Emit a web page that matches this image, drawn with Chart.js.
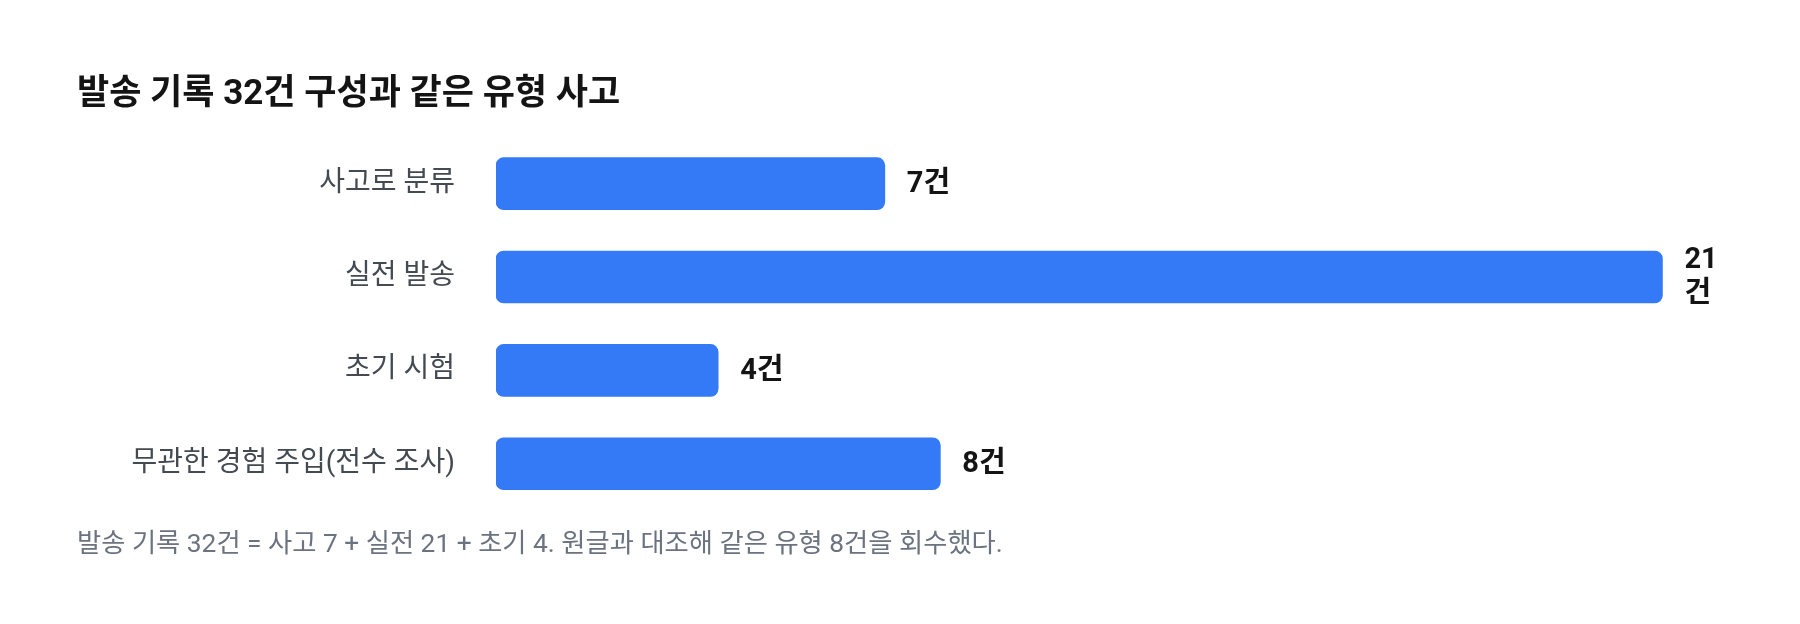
<!DOCTYPE html>
<html lang="ko">
<head>
<meta charset="utf-8">
<title>발송 기록 32건 구성과 같은 유형 사고</title>
<script src="https://cdn.jsdelivr.net/npm/chart.js@4.4.1/dist/chart.umd.min.js"></script>
<style>
  html, body { margin: 0; padding: 0; background: #ffffff; }
  canvas { display: block; }
</style>
</head>
<body>
<canvas id="chart" width="1800" height="624"></canvas>
<script>
// Data
const categories = ['사고로 분류', '실전 발송', '초기 시험', '무관한 경험 주입(전수 조사)']
const counts = [7, 21, 4, 8]
const unit = '건'
const titleText = '발송 기록 32건 구성과 같은 유형 사고'
const footnoteText = '발송 기록 32건 = 사고 7 + 실전 21 + 초기 4. 원글과 대조해 같은 유형 8건을 회수했다.'

const FONT = "Roboto, 'Noto Sans CJK KR', 'Noto Sans', sans-serif"
const BAR_COLOR = '#3479f6'

// Draws "N건" to the right of each bar, breaks the line when it would run past the plot area
const valueLabels = {
  id: 'valueLabels',
  afterDatasetsDraw(chart) {
    const ctx = chart.ctx
    const meta = chart.getDatasetMeta(0)
    const area = chart.chartArea
    ctx.save()
    ctx.font = `bold 29px ${FONT}`
    ctx.fillStyle = '#141414'
    ctx.textAlign = 'left'
    ctx.textBaseline = 'middle'
    meta.data.forEach((bar, i) => {
      const x = bar.x + 22
      const text = counts[i] + unit
      if (x + ctx.measureText(text).width > area.right) {
        ctx.fillText(String(counts[i]), x, bar.y - 16)
        ctx.fillText(unit, x, bar.y + 18)
      } else {
        ctx.fillText(text, x, bar.y + 1)
      }
    })
    ctx.restore()
  }
}

new Chart(document.getElementById('chart').getContext('2d'), {
  type: 'bar',
  data: {
    labels: categories,
    datasets: [{
      data: counts,
      backgroundColor: BAR_COLOR,
      borderRadius: 8,
      borderSkipped: false,
      barThickness: 52
    }]
  },
  options: {
    indexAxis: 'y',
    responsive: false,
    animation: false,
    layout: {
      padding: { top: 74, left: 77, right: 82, bottom: 63 }
    },
    plugins: {
      legend: { display: false },
      tooltip: { enabled: false },
      title: {
        display: true,
        text: titleText,
        align: 'start',
        color: '#141414',
        font: { family: FONT, size: 35, weight: 'bold', lineHeight: 1.2 },
        padding: { top: 0, bottom: 21 }
      },
      subtitle: {
        display: true,
        position: 'bottom',
        text: footnoteText,
        align: 'start',
        color: '#6b7280',
        font: { family: FONT, size: 26.3, weight: 'normal', lineHeight: 1.2 },
        padding: { top: 19, bottom: 0 }
      }
    },
    scales: {
      x: {
        display: false,
        min: 0,
        max: 22
      },
      y: {
        grid: { display: false, drawTicks: false },
        border: { display: false },
        ticks: {
          color: '#444a52',
          padding: 41,
          font: { family: FONT, size: 28 }
        },
        afterFit(axis) {
          axis.width = 419
        }
      }
    }
  },
  plugins: [valueLabels]
})
</script>
</body>
</html>
